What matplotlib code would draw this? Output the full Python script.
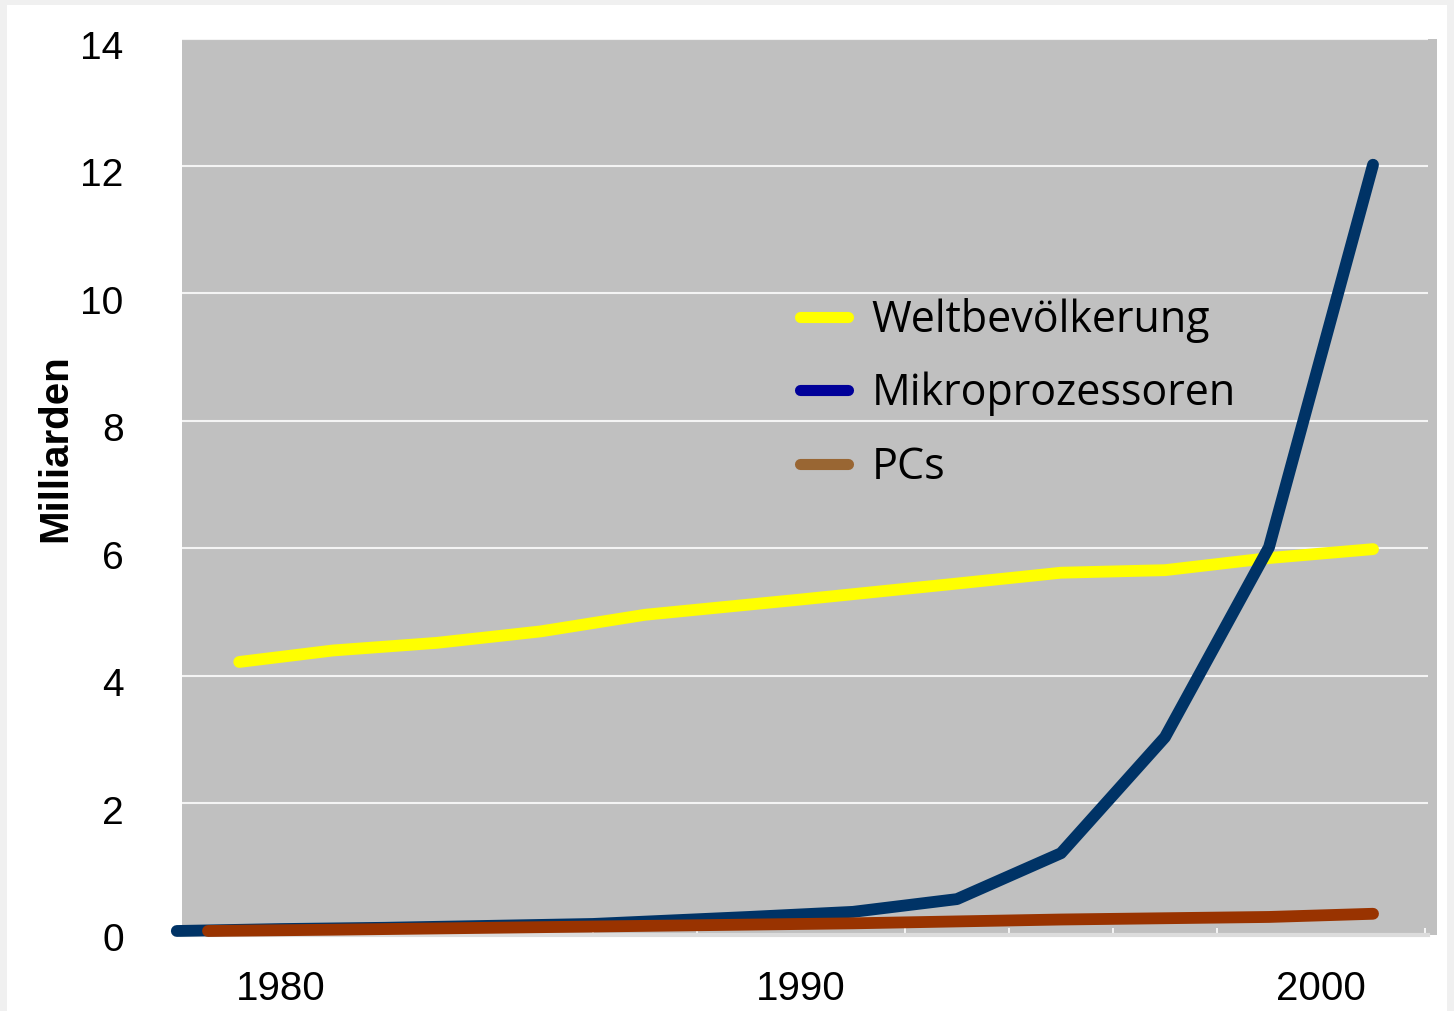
import matplotlib
matplotlib.use("Agg")
import matplotlib.pyplot as plt
from matplotlib.lines import Line2D
from matplotlib.patches import Rectangle
from matplotlib.transforms import ScaledTranslation

# Weltbevölkerung, Mikroprozessoren und PCs in Milliarden
pop_years = [1979.2, 1981, 1983, 1985, 1987, 1990, 1993, 1995, 1997, 1999, 2001]
pop_values = [4.22, 4.40, 4.52, 4.70, 4.96, 5.20, 5.45, 5.62, 5.66, 5.85, 5.99]

cpu_years = [1978, 1980, 1982, 1984, 1986, 1989, 1991, 1993, 1995, 1997, 1999, 2001]
cpu_values = [0.0, 0.03, 0.05, 0.08, 0.11, 0.22, 0.30, 0.50, 1.22, 3.04, 6.02, 12.02]

pc_years = [1978.6, 1981, 1983, 1985, 1987, 1989, 1991, 1993, 1995, 1997, 1999, 2001]
pc_values = [0.0, 0.02, 0.04, 0.06, 0.08, 0.10, 0.12, 0.15, 0.18, 0.20, 0.22, 0.27]

series_names = ["Weltbevölkerung", "Mikroprozessoren", "PCs"]
line_colors = ["#ffff00", "#003366", "#993300"]
legend_colors = ["#ffff00", "#000099", "#996633"]

y_ticks = [0, 2, 4, 6, 8, 10, 12, 14]
x_ticks = [1980, 1990, 2000]

fig = plt.figure(figsize=(14.54, 10.11), dpi=100, facecolor="#f0f0f0")
fig.patches.append(Rectangle((7 / 1454, 0), 1440 / 1454, 1006 / 1011,
                             transform=fig.transFigure, facecolor="white",
                             edgecolor="none", zorder=-10))

ax = fig.add_axes([182 / 1454, 76 / 1011, 1255 / 1454, 896.5 / 1011])
ax.set_facecolor("#c0c0c0")
ax.set_xlim(1978.10, 2002.23)
ax.set_ylim(-0.063, 14)

# horizontal grid stops a little short of the right edge
ax.hlines(y_ticks[1:], 0, 0.993, transform=ax.get_yaxis_transform(),
          colors="#f4f4f4", linewidth=1.5, zorder=1)

lw = 8.5
ax.plot(pop_years, pop_values, color=line_colors[0], lw=lw,
        solid_capstyle="round", solid_joinstyle="round", zorder=3, clip_on=False)
ax.plot(cpu_years, cpu_values, color=line_colors[1], lw=lw,
        solid_capstyle="round", solid_joinstyle="round", zorder=4, clip_on=False)
ax.plot(pc_years, pc_values, color=line_colors[2], lw=lw,
        solid_capstyle="round", solid_joinstyle="round", zorder=5, clip_on=False)

for side in ["top", "right", "left"]:
    ax.spines[side].set_visible(False)
ax.spines["bottom"].set_color("#dcdcdc")
ax.spines["bottom"].set_linewidth(3)
ax.spines["bottom"].set_bounds(1978.10, 2002.06)

ax.set_yticks(y_ticks)
ax.set_yticklabels([str(v) for v in y_ticks], fontsize=28, family="Liberation Sans")
ax.tick_params(axis="y", length=0, pad=42)
offset = ScaledTranslation(0, -0.065, fig.dpi_scale_trans)
for lab in ax.get_yticklabels():
    lab.set_transform(lab.get_transform() + offset)

ax.set_xticks(x_ticks)
ax.set_xticklabels([str(v) for v in x_ticks], fontsize=29, family="Liberation Sans")
ax.set_xticks(range(1980, 2003, 2), minor=True)
ax.tick_params(axis="x", which="major", length=0, pad=25)
ax.tick_params(axis="x", which="minor", direction="in", length=5,
               width=1.2, color="white")

fig.text(55 / 1454, 1 - 448 / 1011, "Milliarden", rotation=90, fontsize=29,
         fontweight="bold", family="Liberation Sans", ha="center", va="center")

handles = [Line2D([], [], color=c, lw=8, solid_capstyle="round")
           for c in legend_colors]
ax.legend(handles, series_names, loc="upper left",
          bbox_to_anchor=(0.4924, 0.711), frameon=False,
          prop={"family": "Open Sans", "size": 31},
          handlelength=1.12, handletextpad=0.55, labelspacing=0.68,
          borderpad=0, borderaxespad=0)

fig.savefig("out.png", dpi=100, facecolor=fig.get_facecolor())
